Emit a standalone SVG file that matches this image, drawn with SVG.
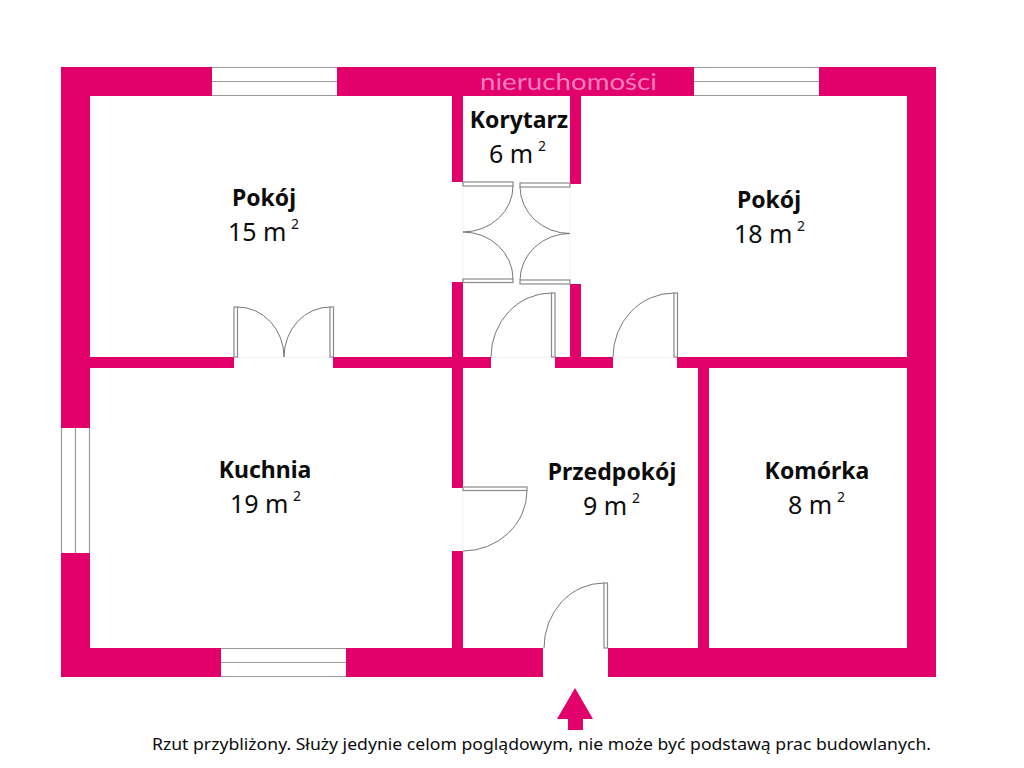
<svg xmlns="http://www.w3.org/2000/svg" width="1024" height="768" viewBox="0 0 1024 768">
<style>
.w{fill:#e2006b}
.win{fill:#fff}
.wl{fill:none;stroke:#9a9a9a;stroke-width:1.2}
.leaf{fill:#fff;stroke:#8a8a8a;stroke-width:1.2}
.arc{fill:none;stroke:#777;stroke-width:1}
.sill{fill:none;stroke:#f3f3f3;stroke-width:1}
text{font-family:"Noto Sans","Open Sans","Liberation Sans",sans-serif;fill:#0c0c0c}
.n{font-weight:700;font-size:23px;text-anchor:middle}
.a{font-size:25px}
.s{font-size:14px}
</style>
<rect width="1024" height="768" fill="#fff"/>
<g id="walls">
<path class="w" d="M61 67H936V677H608V648H907V96H90V648H543V677H61Z"/>
<rect class="w" x="452" y="96" width="11" height="86"/>
<rect class="w" x="570" y="96" width="11" height="88"/>
<rect class="w" x="452" y="282" width="11" height="206"/>
<rect class="w" x="452" y="551" width="11" height="97"/>
<rect class="w" x="570" y="284" width="11" height="84"/>
<rect class="w" x="90" y="357" width="144" height="11"/>
<rect class="w" x="333" y="357" width="158" height="11"/>
<rect class="w" x="555" y="357" width="58" height="11"/>
<rect class="w" x="677" y="357" width="230" height="11"/>
<rect class="w" x="698" y="368" width="11" height="280"/>
</g>
<g id="windows">
<rect class="win" x="212" y="67" width="125" height="29"/><path class="wl" d="M212 67.500H337M212 81.500H337M212 95.500H337"/>
<rect class="win" x="694" y="67" width="125" height="29"/><path class="wl" d="M694 67.500H819M694 81.500H819M694 95.500H819"/>
<rect class="win" x="61" y="428" width="29" height="125"/><path class="wl" d="M61.500 428V553M75.500 428V553M89.500 428V553"/>
<rect class="win" x="221" y="648" width="125" height="29"/><path class="wl" d="M221 648.500H346M221 662.500H346M221 676.500H346"/>
</g>
<g id="doors">
<path class="sill" d="M234 357.500H333M491 357.500H555M613 357.500H677M463 182V282M570 184V284M463 488V551"/>
<rect class="leaf" x="463" y="182" width="50" height="4"/>
<rect class="leaf" x="520" y="183" width="50" height="4"/>
<rect class="leaf" x="463" y="279" width="50" height="3.500"/>
<rect class="leaf" x="520" y="280" width="50" height="4"/>
<path class="arc" d="M513 186A50 46 0 0 1 463 232A50 47 0 0 1 513 279"/>
<path class="arc" d="M520 187A50 47 0 0 0 570 233.500A50 47 0 0 0 520 280"/>
<rect class="leaf" x="551.500" y="293" width="3.500" height="64"/>
<path class="arc" d="M491 357A60.500 64 0 0 1 551.500 293"/>
<rect class="leaf" x="674" y="293" width="3.500" height="64"/>
<path class="arc" d="M613 357A61 64 0 0 1 674 293"/>
<rect class="leaf" x="234" y="307" width="3.500" height="50"/>
<path class="arc" d="M237.500 307A46.500 50 0 0 1 284 357"/>
<rect class="leaf" x="330" y="307" width="3.500" height="50"/>
<path class="arc" d="M330 307A46 50 0 0 0 284 357"/>
<rect class="leaf" x="463" y="487" width="64" height="3.500"/>
<path class="arc" d="M527 490.500A64 60.500 0 0 1 463 551"/>
<rect class="leaf" x="604" y="583" width="3.500" height="65"/>
<path class="arc" d="M544 648A60 65 0 0 1 604 583"/>
</g>
<path id="entry-arrow" class="w" d="M575 688L593 719H583V730H568V719H557Z"/>
<text id="watermark" x="480" y="90" textLength="177" lengthAdjust="spacingAndGlyphs" style="font-family:Lato,'Noto Sans',sans-serif;font-weight:400;font-size:24px;fill:#f27dbb">nieruchomości</text>
<g id="room-korytarz"><text class="n" x="519" y="128">Korytarz</text><text class="a" x="489" y="163">6 m<tspan class="s" x="538" y="151">2</tspan></text></g>
<g id="room-pokoj-1"><text class="n" x="264" y="206">Pokój</text><text class="a" x="228" y="241">15 m<tspan class="s" x="291" y="229">2</tspan></text></g>
<g id="room-pokoj-2"><text class="n" x="769" y="208">Pokój</text><text class="a" x="734" y="243">18 m<tspan class="s" x="797" y="231">2</tspan></text></g>
<g id="room-kuchnia"><text class="n" x="265" y="478">Kuchnia</text><text class="a" x="230" y="513">19 m<tspan class="s" x="293" y="501">2</tspan></text></g>
<g id="room-przedpokoj"><text class="n" x="612" y="480">Przedpokój</text><text class="a" x="583" y="515">9 m<tspan class="s" x="632" y="503">2</tspan></text></g>
<g id="room-komorka"><text class="n" x="817" y="479">Komórka</text><text class="a" x="788" y="514">8 m<tspan class="s" x="837" y="502">2</tspan></text></g>
<text id="note" x="152" y="750" textLength="779" lengthAdjust="spacingAndGlyphs" font-size="16">Rzut przybliżony. Służy jedynie celom poglądowym, nie może być podstawą prac budowlanych.</text>
</svg>
